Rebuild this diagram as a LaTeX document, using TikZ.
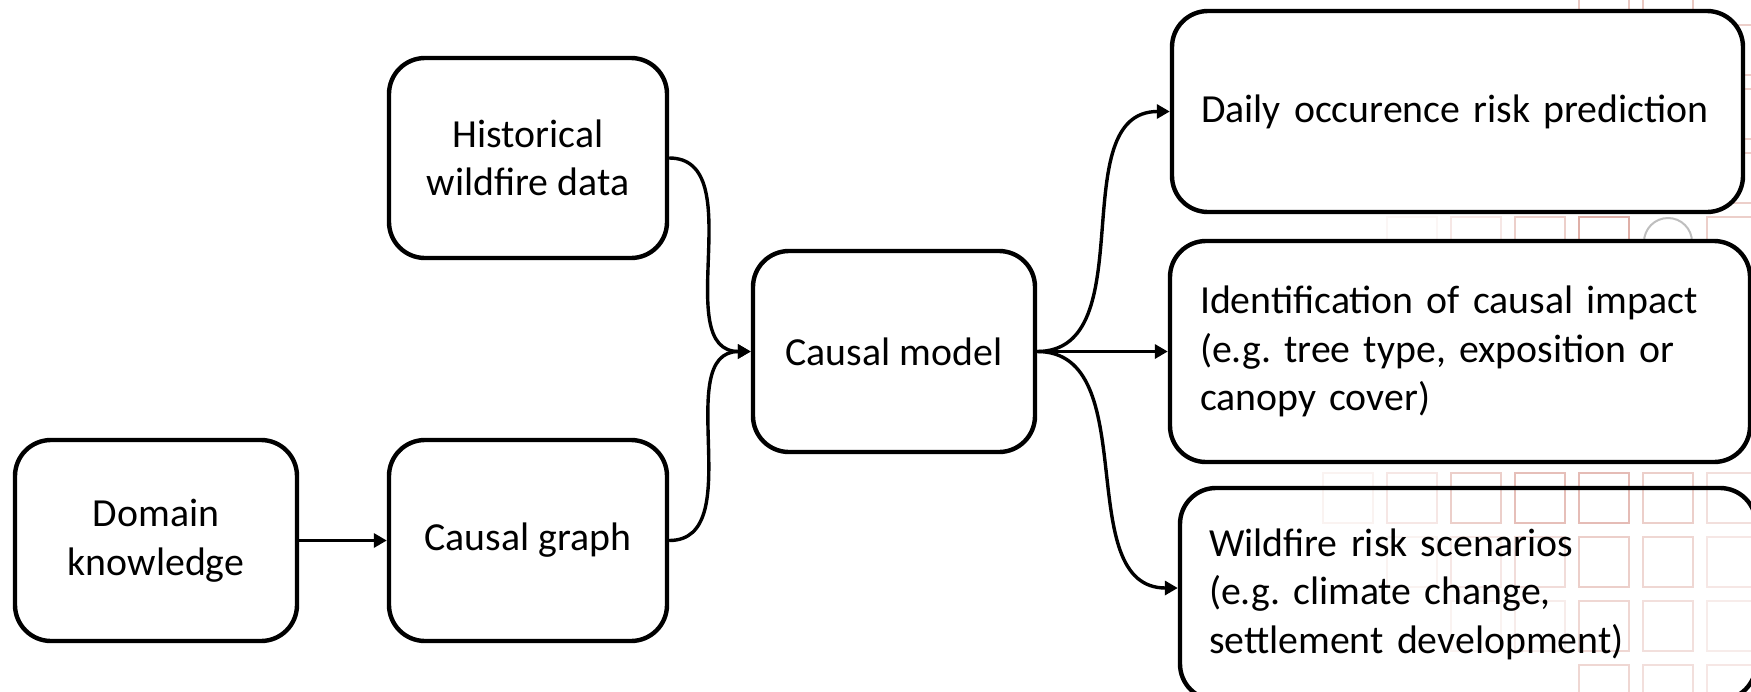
\documentclass[tikz,border=0pt]{standalone}
\usepackage{fontspec}
\setmainfont{Carlito}
\usetikzlibrary{arrows.meta,calc}
\definecolor{tilered}{RGB}{192,96,80}
\definecolor{tilegray}{RGB}{190,190,190}
\frenchspacing

\begin{document}
\begin{tikzpicture}[x=0.5pt,y=-0.5pt,
  box/.style={draw=black, line width=2.2pt, rounded corners=18pt, fill=white,
    inner sep=0pt, font=\fontsize{19.9}{24.3}\selectfont, align=center},
  wide/.style={box, align=left, inner xsep=14.5pt},
  link/.style={line width=1.7pt, -{Triangle[length=6.5pt,width=7pt]}},
  tile/.style={draw=tilered, line width=1pt},
]
\useasboundingbox (0,0) rectangle (1751,691);
\clip (0,0) rectangle (1751,691);

% decorative tile grid in the lower right
\foreach \tx/\ty/\op in {
  1579/-39/0.35, 1643/-39/0.35,
  1707/25/0.3, 1707/89/0.3, 1707/153/0.3,
  1387/217/0.06, 1451/217/0.15, 1515/217/0.3, 1579/217/0.5, 1707/217/0.3,
  1323/473/0.08, 1387/473/0.15, 1451/473/0.3, 1515/473/0.4, 1579/473/0.42, 1643/473/0.3, 1707/473/0.2,
  1387/537/0.08, 1451/537/0.15, 1515/537/0.22, 1579/537/0.3, 1643/537/0.25, 1707/537/0.15,
  1451/601/0.08, 1515/601/0.12, 1579/601/0.25, 1643/601/0.2, 1707/601/0.12,
  1579/665/0.25, 1643/665/0.2, 1707/665/0.15}
  \draw[tile, draw opacity=\op] (\tx,\ty) rectangle ++(50,50);
\draw[tilegray, line width=1pt] (1668,242) circle (12pt);

% input side
\node[box, minimum width=141pt, minimum height=100.5pt] (domain) at (156,540.5) {Domain\\knowledge};
\node[box, minimum width=139pt, minimum height=100.5pt] (graph) at (528,540.5) {Causal graph};
\node[box, minimum width=139pt, minimum height=100pt] (hist) at (528,158) {Historical\\wildfire data};
\node[box, minimum width=141pt, minimum height=100.5pt] (model) at (894,351.5) {Causal model};

% output side
\node[wide, minimum width=285.5pt, minimum height=100.5pt, text width=256.5pt] (daily) at (1457.5,111.5)
  {Daily occurence risk prediction};
\node[wide, minimum width=290pt, minimum height=110.5pt, text width=260pt, inner xsep=15pt] (ident) at (1460,351.5)
  {Identification of causal impact\\(e.g. tree type, exposition or\\canopy cover)};
\node[wide, fill=none, minimum width=288pt, minimum height=106pt, text width=259pt] (wild) at (1468,594)
  {Wildfire risk scenarios\\(e.g. climate change,\\settlement development)};

% connectors
\draw[link] (domain.east) -- (graph.west);
\draw[link] (hist.east) to[out=0,in=180] (model.west);
\draw[link] (graph.east) to[out=0,in=180] (model.west);
\draw[link] (model.east) to[out=0,in=180] (daily.west);
\draw[link] (model.east) -- (ident.west);
\draw[link] (model.east) to[out=0,in=180] ($(wild.west)+(0,-6)$);
\end{tikzpicture}
\end{document}
